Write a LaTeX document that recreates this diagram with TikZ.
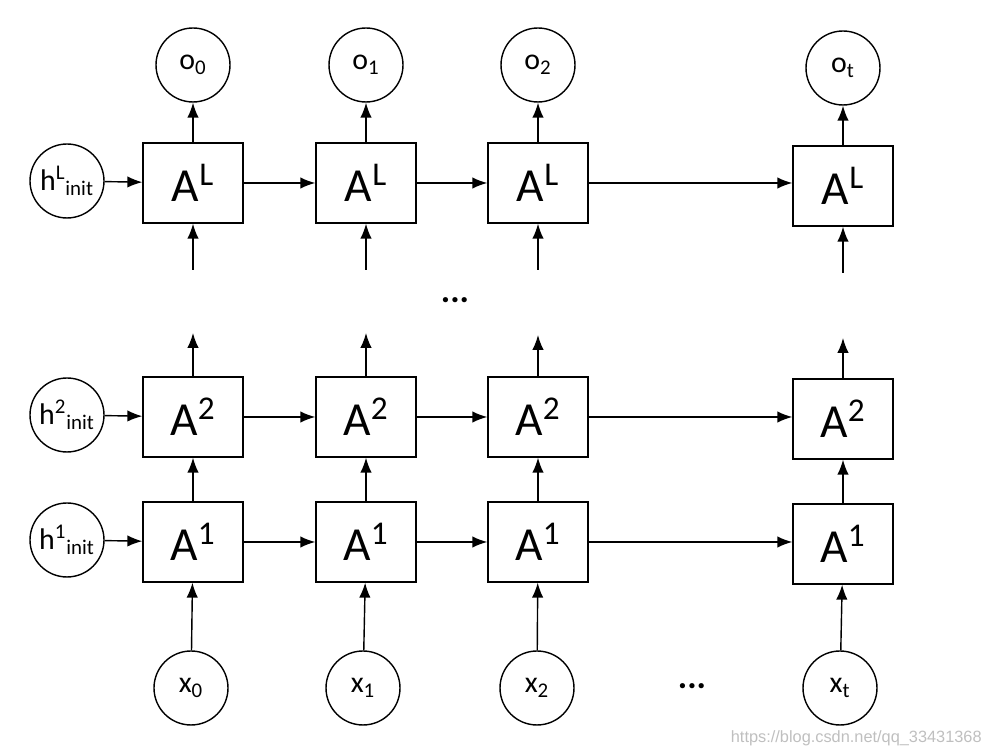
\documentclass[tikz,border=0pt]{standalone}
\usepackage{fontspec}
\setmainfont{Carlito}
\usetikzlibrary{arrows.meta}
\begin{document}
\begin{tikzpicture}[x=0.02cm, y=-0.02cm]
			\tikzset{cellule/.style={draw=black, line width=0.8pt, minimum width=2cm, minimum height=1.6cm, inner sep=0pt, font=\fontsize{27}{30}\selectfont},
			etat/.style={circle, draw=black, line width=0.8pt, minimum size=1.48cm, inner sep=0pt, font=\fontsize{17}{20}\selectfont},
			fleche/.style={>={Latex[length=8.5pt,width=6.5pt]}, ->, line width=0.8pt}};

			\useasboundingbox (0,0) rectangle (992,756);

			\node[cellule] (L0) at (193, 183) {A\textsuperscript{L}};
			\node[cellule] (L1) at (366, 183) {A\textsuperscript{L}};
			\node[cellule] (L2) at (538, 183) {A\textsuperscript{L}};
			\node[cellule] (Lt) at (843, 186) {A\textsuperscript{L}};

			\node[cellule] (B0) at (193, 417) {A\textsuperscript{2}};
			\node[cellule] (B1) at (366, 417) {A\textsuperscript{2}};
			\node[cellule] (B2) at (538, 417) {A\textsuperscript{2}};
			\node[cellule] (Bt) at (843, 419) {A\textsuperscript{2}};

			\node[cellule] (A0) at (193, 542) {A\textsuperscript{1}};
			\node[cellule] (A1) at (366, 542) {A\textsuperscript{1}};
			\node[cellule] (A2) at (538, 542) {A\textsuperscript{1}};
			\node[cellule] (At) at (843, 544) {A\textsuperscript{1}};

			\node[etat] (o0) at (193,  65) {o\textsubscript{0}};
			\node[etat] (o1) at (366,  65) {o\textsubscript{1}};
			\node[etat] (o2) at (538,  65) {o\textsubscript{2}};
			\node[etat] (ot) at (843,  68) {o\textsubscript{t}};

			\node[etat] (x0) at (191, 688) {x\textsubscript{0}};
			\node[etat] (x1) at (363, 688) {x\textsubscript{1}};
			\node[etat] (x2) at (537, 688) {x\textsubscript{2}};
			\node[etat] (xt) at (840, 688) {x\textsubscript{t}};

			\node[etat] (hL) at ( 67, 181) {h\textsuperscript{L}\textsubscript{init}};
			\node[etat] (h2) at ( 67, 415) {h\textsuperscript{2}\textsubscript{init}};
			\node[etat] (h1) at ( 67, 540) {h\textsuperscript{1}\textsubscript{init}};

			\node[font=\fontsize{20}{20}\selectfont\bfseries] (pt1) at (455, 300) {...};
			\node[font=\fontsize{20}{20}\selectfont\bfseries] (pt2) at (692, 686) {...};

			\coordinate (e0) at (193, 270);
			\coordinate (e1) at (366, 270);
			\coordinate (e2) at (538, 270);
			\coordinate (et) at (843, 273);
			\coordinate (s0) at (193, 333);
			\coordinate (s1) at (366, 333);
			\coordinate (s2) at (538, 335);
			\coordinate (st) at (843, 338);

			\draw[fleche] (hL) to (L0);
			\draw[fleche] (L0) to (L1);
			\draw[fleche] (L1) to (L2);
			\draw[fleche] (L2.east) to (Lt.west |- L2.east);
			\draw[fleche] (h2) to (B0);
			\draw[fleche] (B0) to (B1);
			\draw[fleche] (B1) to (B2);
			\draw[fleche] (B2.east) to (Bt.west |- B2.east);
			\draw[fleche] (h1) to (A0);
			\draw[fleche] (A0) to (A1);
			\draw[fleche] (A1) to (A2);
			\draw[fleche] (A2.east) to (At.west |- A2.east);

			\draw[fleche] (L0) to (o0);
			\draw[fleche] (L1) to (o1);
			\draw[fleche] (L2) to (o2);
			\draw[fleche] (Lt) to (ot);
			\draw[fleche] (e0) to (L0);
			\draw[fleche] (e1) to (L1);
			\draw[fleche] (e2) to (L2);
			\draw[fleche] (et) to (Lt);

			\draw[fleche] (B0) to (s0);
			\draw[fleche] (B1) to (s1);
			\draw[fleche] (B2) to (s2);
			\draw[fleche] (Bt) to (st);
			\draw[fleche] (A0) to (B0);
			\draw[fleche] (A1) to (B1);
			\draw[fleche] (A2) to (B2);
			\draw[fleche] (At) to (Bt);

			\draw[fleche] (x0) to (A0);
			\draw[fleche] (x1) to (A1);
			\draw[fleche] (x2) to (A2);
			\draw[fleche] (xt) to (At);

			\node[text=black!25, anchor=east, inner sep=0pt, font=\fontsize{9.3}{11}\selectfont\fontspec{Liberation Sans}] (url) at (982, 738) {https://blog.csdn.net/qq\_33431368};

		\end{tikzpicture}
\end{document}
